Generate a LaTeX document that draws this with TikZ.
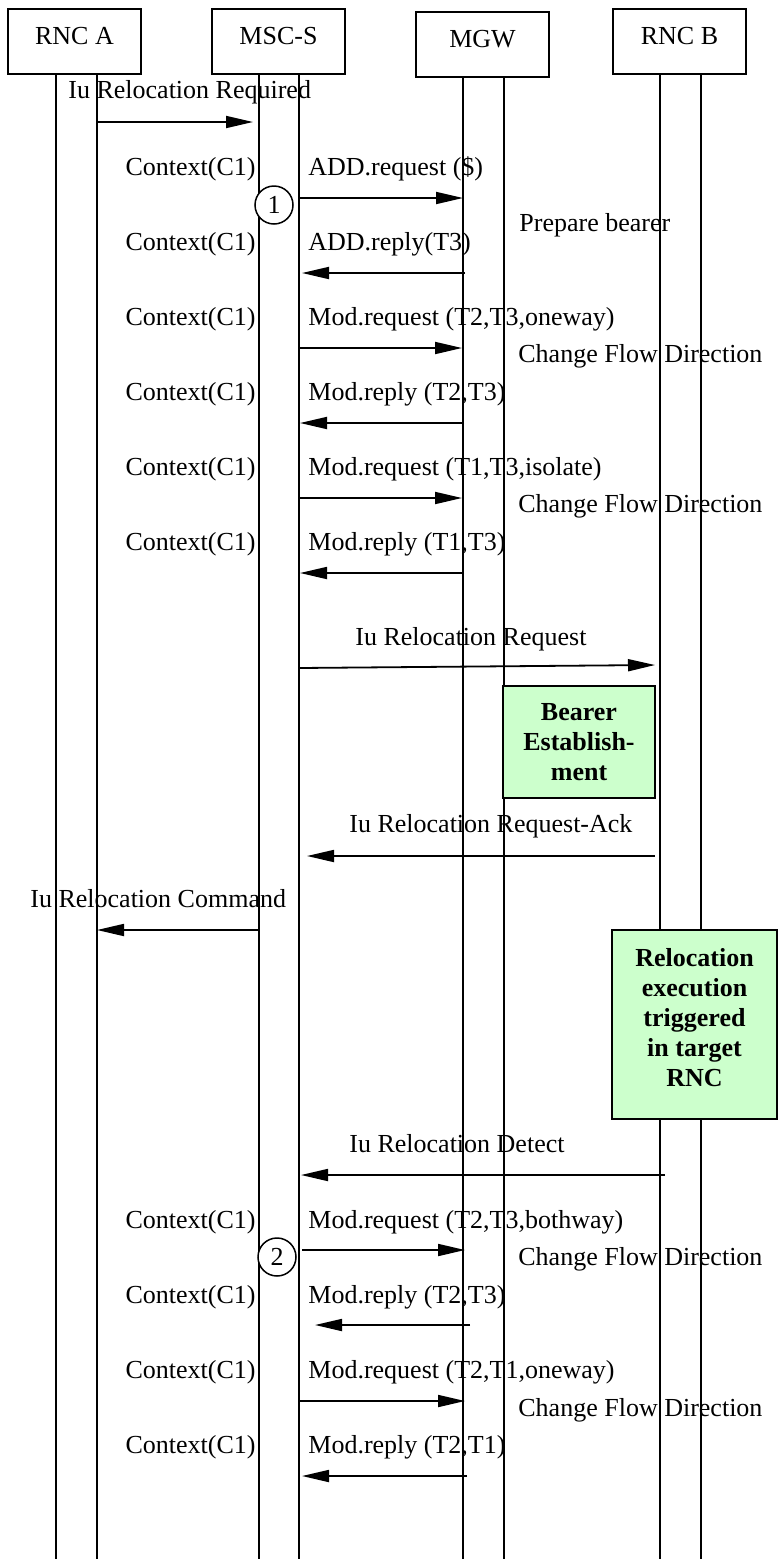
\documentclass[tikz,border=0pt]{standalone}
\usepackage{fontspec}
\setmainfont{Liberation Serif}
\usetikzlibrary{arrows.meta}
\definecolor{boxgreen}{HTML}{CCFFCC}

\begin{document}
\begin{tikzpicture}[x=1pt,y=-1pt,
  thick,
  party/.style={draw,line width=2pt,minimum width=133pt,minimum height=65pt,
    text height=17pt,text depth=11pt,inner sep=0pt,font=\fontsize{26}{30}\selectfont},
  lbl/.style={inner sep=0pt,font=\fontsize{26}{30}\selectfont},
  life/.style={line width=1.3pt},
  msg/.style={line width=1.8pt,-{Triangle[length=27pt,width=12pt]}},
  green box/.style={draw,line width=2pt,fill=boxgreen,inner sep=0pt,align=center,
    font=\fontsize{26}{30}\selectfont\bfseries},
  bold text/.style={inner sep=0pt,align=center,font=\fontsize{26}{30}\selectfont\bfseries},
  step mark/.style={circle,draw,fill=white,line width=1.5pt,minimum size=38pt,
    inner sep=0pt,font=\fontsize{26}{30}\selectfont}]

  \useasboundingbox[fill=white] (0,0) rectangle (778,1559);

  % parties
  \node[party] (rnca) at (74.5,41.5) {RNC A};
  \node[party] (mscs) at (278.5,41.5) {MSC-S};
  \node[party] (mgw) at (482.5,44.5) {MGW};
  \node[party] (rncb) at (679.5,41.5) {RNC B};

  % lifelines
  \foreach \n/\x in {rnca/56,rnca/97,mscs/259,mscs/299,mgw/463,mgw/504,rncb/660,rncb/701}
    \draw[life] (\n.south -| \x,0) -- (\x,1559);

  % green boxes
  \node[green box,minimum width=152pt,minimum height=112pt] (bearer) at (579,742)
    {Bearer\\Establish-\\ment};
  \node[green box,minimum width=165pt,minimum height=189pt] (reloc) at (694.5,1024.5) {};
  \node[bold text] (reloctxt) at ([yshift=7pt]reloc.center)
    {Relocation\\execution\\triggered\\in target\\RNC};

  % labels
  \foreach \y [count=\i] in {175,250,325,400,475,550,1228,1303,1378,1453}
    \node[lbl,anchor=base east] (ctx\i) at (256,\y) {Context(C1)};

  \node[lbl,anchor=base west] (t1) at (68,98) {Iu Relocation Required};
  \node[lbl,anchor=base west] (t2) at (308,175) {ADD.request (\$)};
  \node[lbl,anchor=base west] (t3) at (519,231) {Prepare bearer};
  \node[lbl,anchor=base west] (t4) at (308,250) {ADD.reply(T3)};
  \node[lbl,anchor=base west] (t5) at (308,325) {Mod.request (T2,T3,oneway)};
  \node[lbl,anchor=base west] (t6) at (518,362) {Change Flow Direction};
  \node[lbl,anchor=base west] (t7) at (308,400) {Mod.reply (T2,T3)};
  \node[lbl,anchor=base west] (t8) at (308,475) {Mod.request (T1,T3,isolate)};
  \node[lbl,anchor=base west] (t9) at (518,512) {Change Flow Direction};
  \node[lbl,anchor=base west] (t10) at (308,550) {Mod.reply (T1,T3)};
  \node[lbl,anchor=base west] (t11) at (355,645) {Iu Relocation Request};
  \node[lbl,anchor=base west] (t12) at (349,832) {Iu Relocation Request-Ack};
  \node[lbl,anchor=base west] (t13) at (30,907) {Iu Relocation Command};
  \node[lbl,anchor=base west] (t14) at (349,1152) {Iu Relocation Detect};
  \node[lbl,anchor=base west] (t15) at (308,1228) {Mod.request (T2,T3,bothway)};
  \node[lbl,anchor=base west] (t16) at (518,1265) {Change Flow Direction};
  \node[lbl,anchor=base west] (t17) at (308,1303) {Mod.reply (T2,T3)};
  \node[lbl,anchor=base west] (t18) at (308,1378) {Mod.request (T2,T1,oneway)};
  \node[lbl,anchor=base west] (t19) at (518,1416) {Change Flow Direction};
  \node[lbl,anchor=base west] (t20) at (308,1453) {Mod.reply (T2,T1)};

  % messages
  \foreach \i/\xa/\ya/\xb/\yb in {1/97/122/253/122, 2/300/198/463/198, 3/465/273/302/273,
      4/298/348/462/348, 5/464/423/300/423, 6/298/498/462/498, 7/464/573/300/573,
      8/299/668/655/665, 9/655/856/307/856, 10/259/930/97/930, 11/665/1175/301/1175,
      12/302/1250/465/1250, 13/470/1325/315/1325, 14/300/1401/465/1401,
      15/467/1476/302/1476} {
    \coordinate (s\i) at (\xa,\ya);
    \coordinate (e\i) at (\xb,\yb);
    \path (s\i) edge[msg] (e\i);
  }

  % step marks
  \node[step mark] (c1) at (274,205) {1};
  \node[step mark] (c2) at (277,1257) {2};
\end{tikzpicture}
\end{document}
